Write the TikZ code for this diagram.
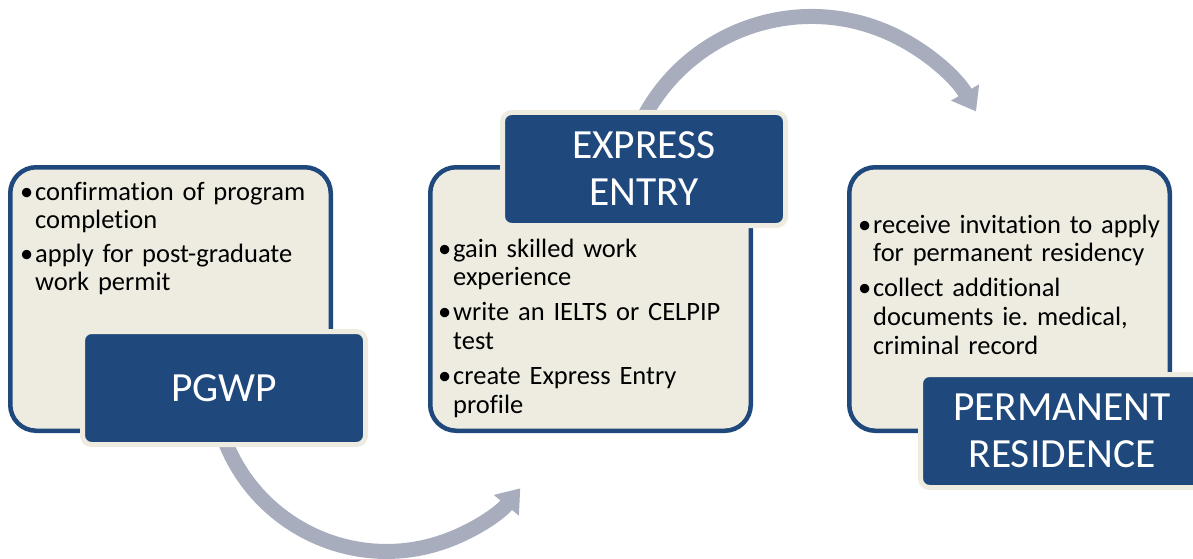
\documentclass[tikz,border=0pt]{standalone}
\usepackage{fontspec}
\setmainfont[Ligatures=NoCommon]{Carlito}
\frenchspacing
\usetikzlibrary{positioning,arrows.meta,backgrounds}

\definecolor{navy}{HTML}{1F497D}
\definecolor{paper}{HTML}{EEECE1}
\definecolor{flowgray}{HTML}{A8ADBE}

\newlength{\bulw}\setlength{\bulw}{15pt}
\newcommand{\bul}{\makebox[\bulw][l]{•}}
\newcommand{\cont}{\hspace*{\bulw}}

\tikzset{
  stagebox/.style={rectangle, rounded corners=26pt, draw=navy, line width=4.5pt, fill=paper,
    minimum width=320.5pt, minimum height=263.5pt, inner sep=0pt},
  stagetitle/.style={rectangle, rounded corners=9pt, draw=paper, line width=5pt, fill=navy,
    text=white, minimum width=283pt, minimum height=113pt, align=center, inner sep=0pt,
    font=\fontsize{41.5}{47}\selectfont},
  stagetext/.style={anchor=base west, inner sep=0pt, text width=315pt, align=left,
    font=\fontsize{26.5}{28.8}\selectfont},
  flow/.style={draw=flowgray, line width=15pt, -{Triangle[width=31pt,length=22pt]}}
}

\begin{document}
\begin{tikzpicture}[x=1pt,y=1pt]
\useasboundingbox (0,0) rectangle (1193,558);

% stage boxes
\node[stagebox] (pgwpbox) at (170.5,259) {};
\node[stagebox, right=95pt of pgwpbox] (eebox) {};
\node[stagebox, right=94pt of eebox] (prbox) {};

% titles
\node[stagetitle, anchor=south west] (pgwp) at ([shift={(72,-14)}]pgwpbox.south west) {PGWP};
\node[stagetitle, anchor=north west] (ee) at ([shift={(72,55)}]eebox.north west) {EXPRESS\\ENTRY};
\node[stagetitle, anchor=south west] (pr) at ([shift={(71,-57)}]prbox.south west) {PERMANENT\\RESIDENCE};

% steps
\node[stagetext] (pgwptext) at ([shift={(12,-35)}]pgwpbox.north west)
  {\bul confirmation of program\\ \cont completion\\[4.5pt]
   \bul apply for post-graduate\\ \cont work permit};
\node[stagetext] (eetext) at ([shift={(10,-92)}]eebox.north west)
  {\bul gain skilled work\\ \cont experience\\[6pt]
   \bul write an IELTS or CELPIP\\ \cont test\\[6pt]
   \bul create Express Entry\\ \cont profile};
\node[stagetext] (prtext) at ([shift={(11,-68)}]prbox.north west)
  {\bul receive invitation to apply\\ \cont for permanent residency\\[6pt]
   \bul collect additional\\ \cont documents ie. medical,\\ \cont criminal record};

% arrows behind the boxes
\begin{scope}[on background layer]
\draw[flow] ([shift={(-2.4,15.4)}]pgwp.south) arc[start angle=198, end angle=320.5, radius=173.4pt];
\draw[flow] ([shift={(-4.7,-16.2)}]ee.north) arc[start angle=155, end angle=30, radius=190pt];
\end{scope}
\end{tikzpicture}
\end{document}
